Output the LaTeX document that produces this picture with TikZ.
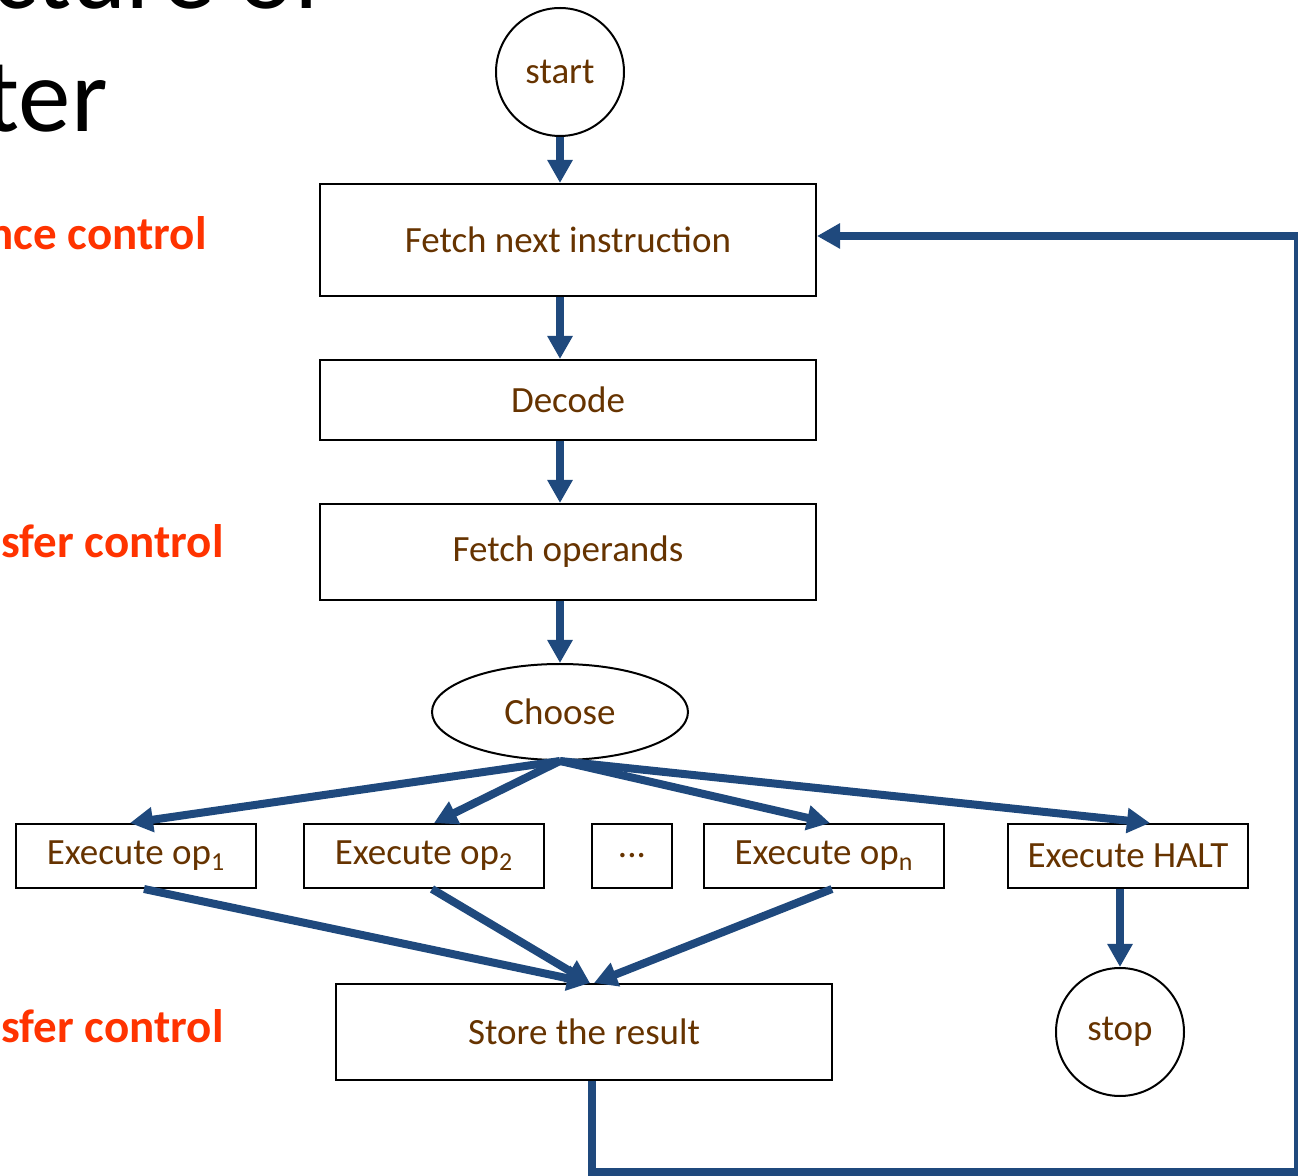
\documentclass[tikz,border=0pt]{standalone}
\usepackage{fontspec}
\setmainfont{Carlito}
\usetikzlibrary{arrows.meta,shapes.geometric}
\definecolor{flowblue}{RGB}{31,73,125}
\definecolor{textbrown}{RGB}{102,51,0}
\definecolor{hotred}{RGB}{255,51,0}

\begin{document}
\begin{tikzpicture}[x=0.5pt,y=-0.5pt,
  box/.style={draw,line width=1pt,text=textbrown,font=\fontsize{18.5}{22}\selectfont,
    minimum width=248pt,inner sep=0pt},
  opbox/.style={box,minimum width=120pt,minimum height=32pt},
  term/.style={draw,circle,line width=1pt,text=textbrown,
    font=\fontsize{18.5}{22}\selectfont,minimum size=64pt,inner sep=0pt},
  flow/.style={line width=4pt,flowblue,-{Triangle[width=12pt,length=11.5pt]}},
  side/.style={text=hotred,font=\fontsize{23.5}{28}\selectfont\bfseries,inner sep=0pt},
  title/.style={font=\fontsize{52.5}{60}\selectfont,inner sep=0pt}]
 \useasboundingbox (0,0) rectangle (1298,1176);
 % slide text cut off at the left
 \node[title,anchor=base east] (ttl1) at (326,9)   {cture of};
 \node[title,anchor=base east] (ttl2) at (108,132) {ter};
 \node[side,anchor=base east]  (sd1)  at (207,250)  {nce control};
 \node[side,anchor=base east]  (sd2)  at (224,558)  {sfer control};
 \node[side,anchor=base east]  (sd3)  at (224,1043) {sfer control};
 % flow chart
 \node[term]                     (start) at (560,72)   {start};
 \node[box,minimum height=56pt]  (fetch) at (568,240)  {Fetch next instruction};
 \node[box,minimum height=40pt]  (dec)   at (568,400)  {Decode};
 \node[box,minimum height=48pt]  (ops)   at (568,552)  {Fetch operands};
 \node[draw,ellipse,line width=1pt,text=textbrown,font=\fontsize{18.5}{22}\selectfont,
   minimum width=128pt,minimum height=48pt,inner sep=0pt] (choose) at (560,712) {Choose};
 \node[opbox]                    (op1)   at (136,856)  {Execute op\textsubscript{1}};
 \node[opbox]                    (op2)   at (424,856)  {Execute op\textsubscript{2}};
 \node[opbox,minimum width=40pt] (dots)  at (632,856)  {...};
 \node[opbox]                    (opn)   at (824,856)  {Execute op\textsubscript{n}};
 \node[opbox]                    (halt)  at (1128,856) {Execute HALT};
 \node[box,minimum height=48pt]  (store) at (584,1032) {Store the result};
 \node[term]                     (stop)  at (1120,1032) {stop};
 \coordinate (rt) at (1298,1172);

 \draw[flow] (start.south) -- (start.south |- fetch.north);
 \draw[flow] (fetch.south -| start.south) -- (dec.north -| start.south);
 \draw[flow] (dec.south -| start.south) -- (ops.north -| start.south);
 \draw[flow] (ops.south -| start.south) -- (choose.north);
 \draw[flow] (choose.south) -- ([xshift=-3pt]op1.north);
 \draw[flow] (choose.south) -- ([xshift=5pt]op2.north);
 \draw[flow] (choose.south) -- ([xshift=3pt]opn.north);
 \draw[flow] (choose.south) -- ([xshift=11pt]halt.north);
 \draw[flow] ([xshift=4pt]op1.south) -- ([xshift=3pt]store.north);
 \draw[flow] ([xshift=4pt]op2.south) -- ([xshift=3pt]store.north);
 \draw[flow] ([xshift=4pt]opn.south) -- ([xshift=5pt]store.north);
 \draw[flow] (stop.north |- halt.south) -- (stop.north);
 \draw[flow] ([xshift=4pt]store.south) |- (rt) |- ([yshift=2pt]fetch.east);
\end{tikzpicture}
\end{document}
